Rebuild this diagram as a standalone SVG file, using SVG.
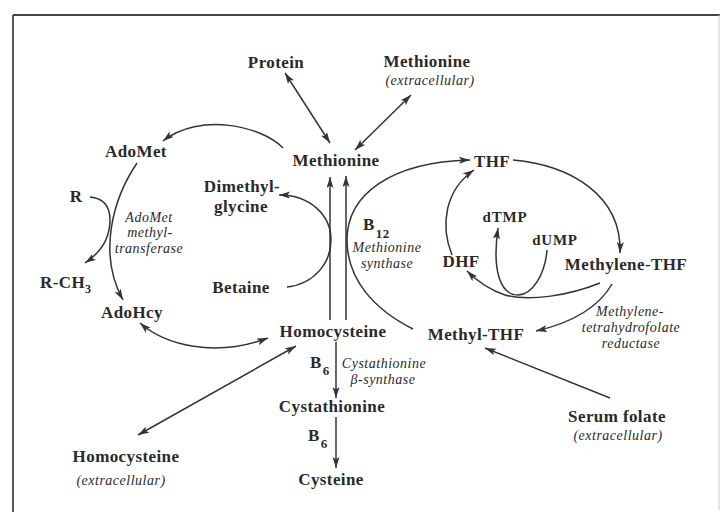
<svg xmlns="http://www.w3.org/2000/svg" width="723" height="515" viewBox="0 0 723 515">
<style>
.m{font-family:"Liberation Serif","Times New Roman",serif;font-weight:bold;font-size:17px;fill:#2a2a2a;text-anchor:middle;letter-spacing:0.4px}
.s{font-family:"Liberation Serif","Times New Roman",serif;font-weight:bold;font-size:15px;fill:#2a2a2a;text-anchor:middle;letter-spacing:0.8px}
.i{font-family:"Liberation Serif","Times New Roman",serif;font-style:italic;font-size:14px;fill:#2a2a2a;text-anchor:middle;letter-spacing:0.5px}
.c{fill:none;stroke:#333;stroke-width:1.5}
.a{marker-end:url(#ah)}
.d{marker-start:url(#ah);marker-end:url(#ah)}
</style>
<defs>
<marker id="ah" markerUnits="userSpaceOnUse" markerWidth="12" markerHeight="8" refX="11" refY="3.5" orient="auto-start-reverse">
<path d="M0,0 L11,3.5 L0,7 L2.5,3.5 z" fill="#333"/>
</marker>
</defs>
<rect width="723" height="515" fill="#fff"/>
<g id="frame">
<line x1="13" y1="15" x2="720" y2="15" stroke="#444" stroke-width="2"/>
<line x1="13" y1="15" x2="13" y2="512" stroke="#444" stroke-width="1.8"/>
<line x1="719" y1="15" x2="719" y2="510" stroke="#ccc" stroke-width="1"/>
</g>
<g id="connectors">
<line class="c d" x1="285" y1="73" x2="330" y2="143"/>
<line class="c d" x1="411" y1="95" x2="355" y2="150"/>
<path class="c a" d="M283,148 C262,126 200,112 163,141"/>
<path class="c a" d="M137,163 C112,200 98,255 123,300"/>
<path class="c a" d="M90,197 C102,198 110,205 110,220 C110,240 100,253 85,263"/>
<path class="c d" d="M140,323 C165,345 215,358 268,338"/>
<line class="c d" x1="138" y1="435" x2="296" y2="346"/>
<line class="c a" x1="330" y1="320" x2="330" y2="177"/>
<line class="c a" x1="346" y1="320" x2="346" y2="176"/>
<path class="c a" d="M287,287 C315,284 331,262 331,240 C331,215 310,195 279,195"/>
<path class="c a" d="M413,329 C375,310 347,280 347,240 C347,195 390,162 470,160"/>
<path class="c a" d="M513,160 C570,165 622,195 620,253"/>
<path class="c a" d="M452,255 C440,225 445,190 474,170"/>
<path class="c a" d="M600,283 C570,295 530,302 505,295 C490,290 478,282 467,271"/>
<path class="c a" d="M547,250 C545,275 532,295 518,295 C500,295 492,270 498,228"/>
<path class="c a" d="M612,284 C600,305 575,322 536,331"/>
<line class="c a" x1="610" y1="398" x2="485" y2="348"/>
<line class="c a" x1="336" y1="342" x2="336" y2="398"/>
<line class="c a" x1="336" y1="417" x2="336" y2="468"/>
</g>
<g id="protein"><text class="m" x="276" y="68">Protein</text></g>
<g id="methionine-extracellular"><text class="m" x="427" y="67">Methionine</text><text class="i" x="430" y="85">(extracellular)</text></g>
<g id="methionine"><text class="m" x="336" y="166">Methionine</text></g>
<g id="adomet"><text class="m" x="136" y="157">AdoMet</text></g>
<g id="r"><text class="m" x="76" y="202">R</text></g>
<g id="r-ch3"><text class="m" x="40" y="288" style="text-anchor:start">R-CH<tspan font-size="12" dy="5">3</tspan></text></g>
<g id="adomet-methyltransferase"><text class="i" x="149" y="222">AdoMet</text><text class="i" x="150" y="237">methyl-</text><text class="i" x="149" y="253">transferase</text></g>
<g id="dimethylglycine"><text class="m" x="242" y="192">Dimethyl-</text><text class="m" x="241" y="212">glycine</text></g>
<g id="betaine"><text class="m" x="241" y="293">Betaine</text></g>
<g id="adohcy"><text class="m" x="132" y="318">AdoHcy</text></g>
<g id="homocysteine"><text class="m" x="333" y="337">Homocysteine</text></g>
<g id="b12-methionine-synthase"><text class="m" x="363" y="230" style="text-anchor:start">B<tspan font-size="13" dx="1" dy="8">12</tspan></text><text class="i" x="387" y="252">Methionine</text><text class="i" x="387" y="268">synthase</text></g>
<g id="thf"><text class="m" x="492" y="167">THF</text></g>
<g id="dhf"><text class="m" x="461" y="267">DHF</text></g>
<g id="dtmp"><text class="s" x="505" y="222">dTMP</text></g>
<g id="dump"><text class="s" x="555" y="245">dUMP</text></g>
<g id="methylene-thf"><text class="m" x="626" y="270">Methylene-THF</text></g>
<g id="mthfr"><text class="i" x="630" y="316">Methylene-</text><text class="i" x="631" y="332">tetrahydrofolate</text><text class="i" x="631" y="348">reductase</text></g>
<g id="methyl-thf"><text class="m" x="476" y="340">Methyl-THF</text></g>
<g id="cbs"><text class="m" x="310" y="368" style="text-anchor:start">B<tspan font-size="13" dx="1" dy="7">6</tspan></text><text class="i" x="384" y="368">Cystathionine</text><text class="i" x="383" y="384">β-synthase</text></g>
<g id="cystathionine"><text class="m" x="332" y="412">Cystathionine</text></g>
<g id="b6-2"><text class="m" x="308" y="441" style="text-anchor:start">B<tspan font-size="13" dx="1" dy="7">6</tspan></text></g>
<g id="cysteine"><text class="m" x="331" y="485">Cysteine</text></g>
<g id="homocysteine-extracellular"><text class="m" x="126" y="462">Homocysteine</text><text class="i" x="121" y="485">(extracellular)</text></g>
<g id="serum-folate"><text class="m" x="617" y="422">Serum folate</text><text class="i" x="618" y="440">(extracellular)</text></g>
</svg>
